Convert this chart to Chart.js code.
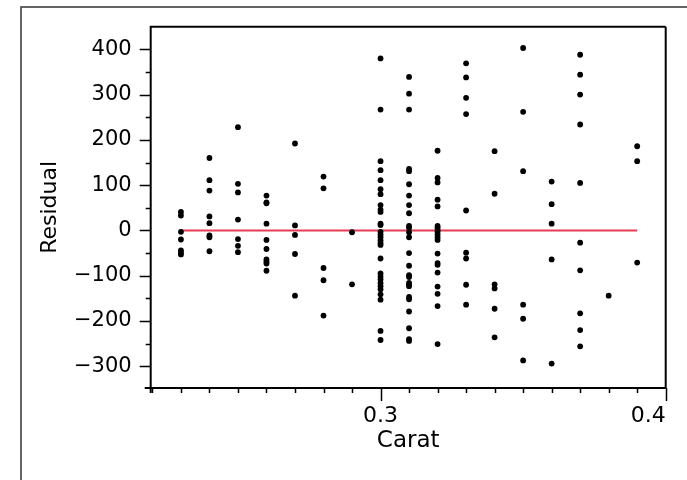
<!DOCTYPE html>
<html>
<head>
<meta charset="utf-8">
<script src="https://cdn.jsdelivr.net/npm/chart.js@4.4.1/dist/chart.umd.min.js"></script>
<style>
  body { margin: 0; background: #fff; }
  #wrap { width: 687px; height: 480px; }
</style>
</head>
<body>
<div id="wrap"><canvas id="residChart" width="687" height="480"></canvas></div>
<script>
const caratLevels = [0.23, 0.24, 0.25, 0.26, 0.27, 0.28, 0.29, 0.30, 0.31, 0.32, 0.33, 0.34, 0.35, 0.36, 0.37, 0.38, 0.39];
const residualsByCarat = [
    [41, 33, -3, -20, -44, -49, -53],
    [160, 111, 88, 31, 16, -11, -15, -46],
    [228, 103, 84, 24, -19, -34, -48],
    [77, 62, 60, 15, -21, -41, -64, -69, -73, -89],
    [192, 11, -10, -52, -144],
    [119, 93, -83, -110, -188],
    [-4, -119],
    [380, 267, 153, 133, 111, 91, 80, 56, 46, 41, 15, 12, -3, -9, -15, -22, -28, -32, -62, -95, -102, -108, -116, -123, -130, -141, -153, -222, -242],
    [339, 302, 267, 136, 131, 102, 77, 56, 38, 10, 6, -4, -15, -50, -78, -99, -103, -116, -119, -123, -147, -152, -179, -216, -240, -244],
    [176, 116, 106, 68, 53, 10, 6, 1, -3, -9, -15, -21, -51, -72, -76, -93, -124, -140, -167, -251],
    [369, 338, 293, 257, 44, -49, -62, -120, -164],
    [175, 81, -119, -128, -173, -236],
    [403, 262, 131, -164, -195, -287],
    [108, 58, 15, -64, -294],
    [388, 344, 300, 234, 105, -27, -88, -183, -220, -256],
    [-144],
    [186, 153, -71]
];
// fitted line (residual zero) across the data range
const fitX = [0.23, 0.39];
const fitY = [0, 0];
const yTickValues = [-300, -200, -100, 0, 100, 200, 300, 400];
const xLabelValues = [0.3, 0.4];

const xMin = 0.2194, xMax = 0.4, yMin = -348, yMax = 450;

const points = [];
caratLevels.forEach(function (c, i) {
    residualsByCarat[i].forEach(function (r) { points.push({ x: c, y: r }); });
});

const fontFam = "'DejaVu Sans', Verdana, sans-serif";

// axes box, tick marks and the outer frame
const axisDecor = {
    id: 'axisDecor',
    afterDraw(chart) {
        const ctx = chart.ctx;
        const xs = chart.scales.x, ys = chart.scales.y;
        const a = chart.chartArea;
        ctx.save();
        ctx.strokeStyle = '#333';
        ctx.lineWidth = 1.5;
        ctx.strokeRect(21, 7, 700, 500);

        ctx.strokeStyle = '#000';
        ctx.lineWidth = 2;
        ctx.beginPath();
        ctx.moveTo(a.left, a.top); ctx.lineTo(a.right, a.top);
        ctx.moveTo(a.right, a.top); ctx.lineTo(a.right, a.bottom);
        ctx.moveTo(a.left, a.top - 1); ctx.lineTo(a.left, a.bottom + 5);
        ctx.moveTo(a.left - 6, a.bottom); ctx.lineTo(a.right, a.bottom);
        ctx.stroke();

        ctx.lineWidth = 1.5;
        ctx.beginPath();
        for (let v = -300; v <= 400; v += 50) {
            const py = Math.round(ys.getPixelForValue(v)) + 0.5;
            const len = (v % 100 === 0) ? 11 : 5;
            ctx.moveTo(a.left - len, py); ctx.lineTo(a.left, py);
        }
        for (let k = 22; k <= 40; k++) {
            const v = k / 100;
            const px = Math.round(xs.getPixelForValue(v)) + 0.5;
            const len = (k % 10 === 0) ? 13 : 5;
            ctx.moveTo(px, a.bottom); ctx.lineTo(px, a.bottom + len);
        }
        ctx.stroke();
        ctx.restore();
    }
};

new Chart(document.getElementById('residChart').getContext('2d'), {
    type: 'scatter',
    data: {
        datasets: [{
            label: 'Residual',
            data: points,
            backgroundColor: '#000',
            borderColor: '#000',
            pointRadius: 2.9,
            pointBorderWidth: 0
        }, {
            type: 'line',
            label: 'Fit',
            data: fitX.map(function (x, i) { return { x: x, y: fitY[i] }; }),
            borderColor: '#e63c55',
            borderWidth: 2,
            pointRadius: 0,
            fill: false
        }]
    },
    plugins: [axisDecor],
    options: {
        responsive: false,
        animation: false,
        layout: { padding: { left: 0, top: 26.7, right: 21.3, bottom: 0 } },
        plugins: {
            legend: { display: false },
            tooltip: { enabled: false }
        },
        scales: {
            x: {
                type: 'linear',
                min: xMin,
                max: xMax,
                afterBuildTicks: function (s) {
                    s.ticks = [{ value: xMin }].concat(xLabelValues.map(function (v) { return { value: v }; }));
                },
                afterFit: function (s) {
                    s.height = 92;
                    s.paddingLeft = 0; s.paddingRight = 0;
                },
                grid: { display: false, drawTicks: false },
                border: { display: false },
                ticks: {
                    padding: 15,
                    color: '#000',
                    font: { family: fontFam, size: 22 },
                    maxRotation: 0,
                    align: 'inner',
                    callback: function (v) { return xLabelValues.indexOf(v) >= 0 ? v.toFixed(1) : ''; }
                },
                title: {
                    display: true,
                    text: 'Carat',
                    color: '#000',
                    font: { family: fontFam, size: 23 },
                    padding: { top: 0, bottom: 25 }
                }
            },
            y: {
                type: 'linear',
                min: yMin,
                max: yMax,
                afterBuildTicks: function (s) {
                    s.ticks = yTickValues.map(function (v) { return { value: v }; });
                },
                afterFit: function (s) {
                    s.width = 150.7;
                    s.paddingTop = 0; s.paddingBottom = 0;
                },
                grid: { display: false, drawTicks: false },
                border: { display: false },
                ticks: {
                    padding: 19,
                    color: '#000',
                    font: { family: fontFam, size: 21 },
                    callback: function (v) { return v < 0 ? '\u2212' + Math.abs(v) : String(v); }
                },
                title: {
                    display: true,
                    text: 'Residual',
                    color: '#000',
                    font: { family: fontFam, size: 22 },
                    padding: { top: 37, bottom: 0 }
                }
            }
        }
    }
});
</script>
</body>
</html>
